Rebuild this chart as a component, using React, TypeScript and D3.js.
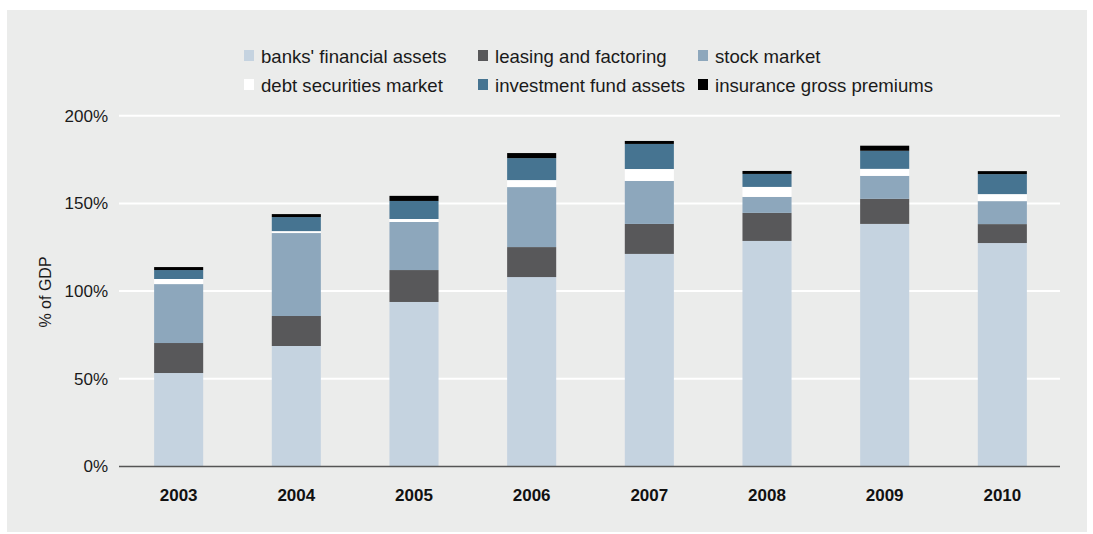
import { useMemo } from 'react'
import * as d3 from 'd3'

const YEARS = ['2003', '2004', '2005', '2006', '2007', '2008', '2009', '2010']

const SERIES = [
  'banks\' financial assets',
  'leasing and factoring',
  'stock market',
  'debt securities market',
  'investment fund assets',
  'insurance gross premiums',
]

const BANKS = [53.3, 68.7, 93.8, 108.0, 121.2, 128.6, 138.3, 127.4]
const LEASING = [17.1, 17.1, 18.2, 17.1, 17.1, 16.0, 14.3, 10.8]
const STOCK = [33.6, 47.3, 27.4, 34.2, 24.5, 9.1, 13.1, 13.1]
const DEBT = [2.9, 1.1, 1.7, 4.0, 6.8, 5.7, 4.0, 4.0]
const FUNDS = [5.1, 8.0, 10.3, 12.5, 14.3, 7.4, 10.3, 11.4]
const INSURANCE = [1.7, 1.7, 2.9, 2.9, 1.7, 1.7, 2.9, 1.7]

const Y_TICKS = [0, 50, 100, 150, 200]

const COLORS = ['#c5d3e0', '#58585a', '#8da7bc', '#ffffff', '#467491', '#000000']

const W = 1093
const H = 534
const FONT = 'Liberation Sans, Arial, Helvetica, sans-serif'

export default function App() {
  const x = d3.scaleBand().domain(YEARS).range([120, 1061]).paddingInner(0.583).paddingOuter(0.29)
  const y = d3.scaleLinear().domain([0, 200]).range([466.5, 115.7])

  const stacked = useMemo(() => {
    const cols = [BANKS, LEASING, STOCK, DEBT, FUNDS, INSURANCE]
    const rows = YEARS.map((yr, i) => {
      const r: Record<string, number | string> = { year: yr }
      SERIES.forEach((s, k) => { r[s] = cols[k][i] })
      return r
    })
    return d3.stack<any>().keys(SERIES)(rows)
  }, [])

  // legend layout: 3 columns x 2 rows
  const legendX = [244, 478, 698]
  const legendY = [56, 85]

  return (
    <div style={{ position: 'absolute', left: 0, top: 0 }}>
      <svg width={W} height={H} style={{ display: 'block', fontFamily: FONT }}>
        <rect x={0} y={0} width={W} height={H} fill="#ffffff" />
        <rect x={7} y={10} width={1080} height={522} fill="#ebeceb" />

        {/* legend */}
        {SERIES.map((s, i) => {
          const lx = legendX[i % 3]
          const ly = legendY[Math.floor(i / 3)]
          return (
            <g key={s}>
              <rect x={lx} y={ly - 6} width={10} height={11} fill={COLORS[i]} />
              <text x={lx + 17} y={ly} dy="0.35em" fontSize={18.6} fill="#1a1a1a">{s}</text>
            </g>
          )
        })}

        {/* grid */}
        {Y_TICKS.filter(t => t > 0).map(t => (
          <line key={t} x1={119} x2={1060} y1={y(t)} y2={y(t)} stroke="#ffffff" strokeWidth={2} />
        ))}
        {Y_TICKS.map(t => (
          <text key={t} x={108} y={y(t)} dy="0.35em" textAnchor="end" fontSize={17} fill="#1a1a1a">{t}%</text>
        ))}
        <text transform={`translate(51,${292}) rotate(-90)`} textAnchor="middle" fontSize={16} fill="#1a1a1a">% of GDP</text>

        {/* bars */}
        {stacked.map((layer, k) => (
          <g key={layer.key} fill={COLORS[k]}>
            {layer.map((d, i) => (
              <rect
                key={YEARS[i]}
                x={x(YEARS[i])}
                y={y(d[1])}
                width={x.bandwidth()}
                height={y(d[0]) - y(d[1])}
              />
            ))}
          </g>
        ))}

        {/* axis */}
        <line x1={119} x2={1060} y1={y(0)} y2={y(0)} stroke="#555555" strokeWidth={1.5} />
        {YEARS.map(yr => (
          <text key={yr} x={(x(yr) ?? 0) + x.bandwidth() / 2} y={495} dy="0.35em" textAnchor="middle"
            fontSize={17} fontWeight="bold" fill="#111111">{yr}</text>
        ))}
      </svg>
    </div>
  )
}
